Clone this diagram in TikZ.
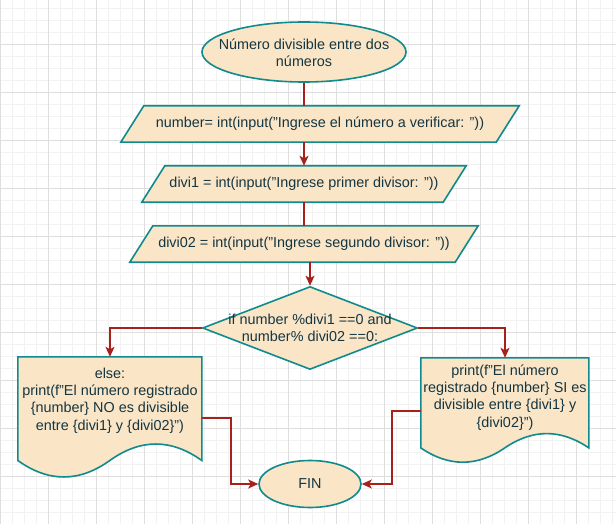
\documentclass[tikz,border=0pt]{standalone}
\usepackage{fontspec}
\setmainfont{Liberation Sans}
\usetikzlibrary{shapes.geometric,arrows.meta,calc}
\definecolor{fillc}{HTML}{FAE5C7}
\definecolor{strokec}{HTML}{0F8B8D}
\definecolor{textc}{HTML}{143642}
\definecolor{linec}{HTML}{A8201A}
\definecolor{gmajor}{HTML}{DEDEDE}
\definecolor{gminor}{HTML}{F2F2F2}
\pgfdeclarelayer{gridlayer}
\pgfdeclarelayer{shapelayer}
\pgfsetlayers{gridlayer,shapelayer,main}
\tikzset{
  shp/.style={fill=fillc, draw=strokec, line width=1.6pt, line join=miter},
  txt/.style={text=textc, font=\fontsize{14.4}{17.3}\selectfont, align=center, inner sep=0pt},
  holder/.style={draw=none, inner sep=0pt, rectangle},
  wire/.style={draw=linec, line width=1.5pt},
  arr/.style={draw=linec, line width=1.5pt, -{Stealth[length=10pt,width=9pt,inset=2.5pt]}},
  gminorline/.style={draw=gminor, line width=1pt},
  gmajorline/.style={draw=gmajor, line width=1pt},
}
\begin{document}
\begin{tikzpicture}[x=1pt,y=-1pt]
\useasboundingbox (0,0) rectangle (616,524);
\begin{pgfonlayer}{gridlayer}
  \fill[white] (0,0) rectangle (616,524);
  \foreach \i in {0,...,51} {\pgfmathsetmacro\xx{0.3+12*\i}\draw[gminorline] (\xx,0) -- (\xx,524);}
  \foreach \i in {0,...,42} {\pgfmathsetmacro\yy{8.7+12*\i}\draw[gminorline] (0,\yy) -- (616,\yy);}
  \foreach \i in {0,...,12} {\pgfmathsetmacro\xx{0.3+48*\i}\draw[gmajorline] (\xx,0) -- (\xx,524);}
  \foreach \i in {0,...,9} {\pgfmathsetmacro\yy{44.7+48*\i}\draw[gmajorline] (0,\yy) -- (616,\yy);}
\end{pgfonlayer}

% start
\node[shp, ellipse, inner sep=0pt, minimum width=204pt, minimum height=60pt] (start) at (304,52) {};
\node[txt] (startt) at (304,53) {Número divisible entre dos\\números};

% parallelograms
\node[holder, txt, minimum width=375pt, minimum height=36pt] (p1) at (320,124) {number= int(input("Ingrese el número a verificar: "))};
\node[holder, txt, minimum width=301pt, minimum height=36pt] (p2) at (304,184) {divi1 = int(input("Ingrese primer divisor: "))};
\node[holder, txt, minimum width=325pt, minimum height=36pt] (p3) at (304,244) {divi02 = int(input("Ingrese segundo divisor: "))};
\begin{pgfonlayer}{shapelayer}
  \foreach \n in {p1,p2,p3} {
    \draw[shp] ($(\n.north west)+(11.5,0)$) -- ($(\n.north east)+(11.5,0)$) -- ($(\n.south east)+(-11.5,0)$) -- ($(\n.south west)+(-11.5,0)$) -- cycle;
  }
\end{pgfonlayer}

% decision
\node[shp, diamond, inner sep=0pt, minimum width=215pt, minimum height=83pt, aspect=2.6] (dia) at (310,328) {};
\node[txt] (diat) at (310,328) {if number \%divi1 ==0 and\\number\% divi02 ==0:};

% documents
\node[holder, minimum width=184pt, minimum height=122pt] (ld) at (110,418) {};
\node[holder, minimum width=168pt, minimum height=106pt] (rd) at (505,411) {};
\begin{pgfonlayer}{shapelayer}
  \begin{scope}[shift={(ld.north west)}]
    \draw[shp] (0,0) -- (184,0) -- (184,103.7) .. controls (153.33,81.74) and (122.67,81.74) .. (92,103.7) .. controls (61.33,125.66) and (30.67,125.66) .. (0,103.7) -- cycle;
  \end{scope}
  \begin{scope}[shift={(rd.north west)}]
    \draw[shp] (0,0) -- (168,0) -- (168,90.1) .. controls (140,71.02) and (112,71.02) .. (84,90.1) .. controls (56,109.18) and (28,109.18) .. (0,90.1) -- cycle;
  \end{scope}
\end{pgfonlayer}
\node[txt] (ldt) at (110,400.5) {else:\\print(f"El número registrado\\\{number\} NO es divisible\\entre \{divi1\} y \{divi02\}")};
\node[txt] (rdt) at (505,397.5) {print(f"El número\\registrado \{number\} SI es\\divisible entre \{divi1\} y\\\{divi02\}")};

% end
\node[shp, ellipse, inner sep=0pt, minimum width=102pt, minimum height=47pt] (fin) at (310,484) {};
\node[txt] (fint) at (310,484) {FIN};

% connectors
\draw[wire] (start.south) -- (start.south |- p1.north);
\draw[arr] (p1.south -| p2.north) -- (p2.north);
\draw[wire] (p2.south) -- (p3.north);
\draw[arr] (p3.south -| dia.north) -- (dia.north);
\draw[arr] (dia.west) -| (ld.north);
\draw[arr] (dia.east) -| (rd.north);
\draw[arr] (ld.east) -- ++(29,0) |- (fin.west);
\draw[arr] (rd.west) -- ++(-29,0) |- (fin.east);
\end{tikzpicture}
\end{document}
